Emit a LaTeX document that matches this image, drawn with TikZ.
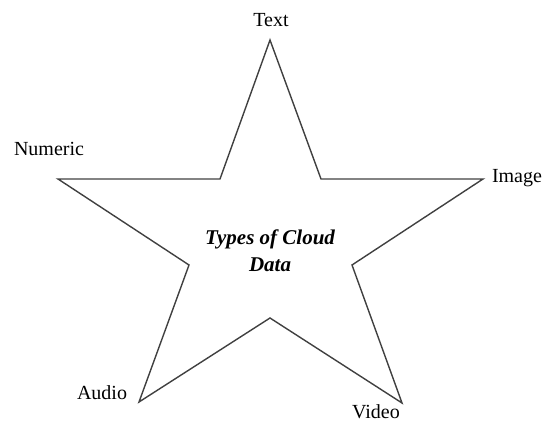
\documentclass[tikz,border=0pt]{standalone}
\usepackage{fontspec}
\setmainfont{Liberation Serif}
\begin{document}
\begin{tikzpicture}[x=0.5pt,y=-0.5pt,
  lbl/.style={font=\fontsize{10}{12}\selectfont, inner sep=0pt},
  starline/.style={draw=black!75, line width=0.7pt, line join=miter}]
\useasboundingbox (0,0) rectangle (544,421);
% outer and inner vertices of the star
\coordinate (t)  at (270,40);
\coordinate (tr) at (321,179);
\coordinate (r)  at (483,179);
\coordinate (br) at (352,265);
\coordinate (b)  at (402,403);
\coordinate (bm) at (270,318);
\coordinate (bl) at (139,402);
\coordinate (bi) at (189,265);
\coordinate (l)  at (58,179);
\coordinate (tl) at (220,179);
\draw[starline] (t) -- (tr) -- (r) -- (br) -- (b) -- (bm) -- (bl) -- (bi) -- (l) -- (tl) -- cycle;
% labels at the star points
\node[lbl] (text)    at (271,20)  {Text};
\node[lbl] (numeric) at (49,149)  {Numeric};
\node[lbl] (image)   at (517,178) {Image};
\node[lbl] (audio)   at (102,393) {Audio};
\node[lbl] (video)   at (376,412) {Video};
% centre caption
\node[lbl, font=\fontsize{10.5}{13.5}\selectfont\bfseries\itshape, align=center] (title) at (270,251) {Types of Cloud\\Data};
\end{tikzpicture}
\end{document}
